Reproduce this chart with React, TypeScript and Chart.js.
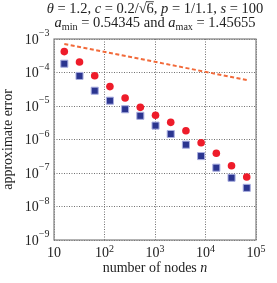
import React, { useEffect, useRef } from 'react';
import { Chart, registerables } from 'chart.js';

Chart.register(...registerables);

// ---- data ----
const nodes = [16, 32, 64, 128, 256, 512, 1024, 2048, 4096, 8192, 16384, 32768, 65536];
const errCircles = [4.2e-4, 2.05e-4, 8.0e-5, 3.8e-5, 1.73e-5, 9.1e-6, 5.3e-6, 3.25e-6, 1.83e-6, 8.0e-7, 3.9e-7, 1.65e-7, 7.6e-8];
const errSquares = [1.83e-4, 7.9e-5, 2.86e-5, 1.44e-5, 8.0e-6, 5.1e-6, 2.6e-6, 1.46e-6, 7.0e-7, 3.2e-7, 1.44e-7, 7.2e-8, 3.6e-8];
const refLineX = [16, 65536];
const refLineY = [7.1e-4, 6.0e-5];
const xTickExps = [1, 2, 3, 4, 5];
const yTickExps = [-3, -4, -5, -6, -7, -8, -9];
const yTitle = 'approximate error';
const xTitleText = 'number of nodes ';
const xTitleVar = 'n';

const SERIF = '"Liberation Serif", "DejaVu Serif", serif';
const F = (size: number, italic = false) => `${italic ? 'italic ' : ''}${size}px ${SERIF}`;

type Seg = { t: string; i?: boolean; sub?: boolean; sqrt?: boolean };

const titleLine1: Seg[] = [
  { t: 'θ', i: true }, { t: ' = 1.2, ' }, { t: 'c', i: true }, { t: ' = 0.2/' }, { t: '6', sqrt: true },
  { t: ', ' }, { t: 'p', i: true }, { t: ' = 1/1.1, ' }, { t: 's', i: true }, { t: ' = 100' },
];
const titleLine2: Seg[] = [
  { t: 'a', i: true }, { t: 'min', sub: true }, { t: ' = 0.54345 and ' }, { t: 'a', i: true }, { t: 'max', sub: true }, { t: ' = 1.45655' },
];

function segWidth(ctx: CanvasRenderingContext2D, s: Seg, size: number) {
  if (s.sqrt) {
    ctx.font = F(size);
    return ctx.measureText('√').width + ctx.measureText(s.t).width;
  }
  ctx.font = F(s.sub ? size * 0.7 : size, !!s.i);
  return ctx.measureText(s.t).width;
}

function drawSegs(ctx: CanvasRenderingContext2D, segs: Seg[], cx: number, baseline: number, size: number) {
  const total = segs.reduce((a, s) => a + segWidth(ctx, s, size), 0);
  let x = cx - total / 2;
  ctx.textAlign = 'left';
  ctx.textBaseline = 'alphabetic';
  for (const s of segs) {
    if (s.sqrt) {
      ctx.font = F(size);
      const w1 = ctx.measureText('√').width;
      ctx.fillText('√', x, baseline);
      const w2 = ctx.measureText(s.t).width;
      ctx.fillText(s.t, x + w1, baseline);
      ctx.beginPath();
      ctx.lineWidth = 0.8;
      ctx.moveTo(x + w1 - 0.5, baseline - size * 0.78);
      ctx.lineTo(x + w1 + w2, baseline - size * 0.78);
      ctx.stroke();
      x += w1 + w2;
    } else {
      const sz = s.sub ? size * 0.7 : size;
      ctx.font = F(sz, !!s.i);
      ctx.fillText(s.t, x, baseline + (s.sub ? 3 : 0));
      x += ctx.measureText(s.t).width;
    }
  }
}

function powParts(e: number) {
  if (e === 1) return { base: '10', exp: '' };
  return { base: '10', exp: e < 0 ? '−' + Math.abs(e) : String(e) };
}

const decorPlugin = {
  id: 'decor',
  beforeDatasetsDraw(chart: any) {
    const { ctx, chartArea: a } = chart;
    ctx.save();
    ctx.strokeStyle = '#808080';
    ctx.lineWidth = 1.2;
    ctx.strokeRect(a.left, a.top, a.right - a.left, a.bottom - a.top);
    ctx.restore();
  },
  afterDraw(chart: any) {
    const { ctx, chartArea: a, scales } = chart;
    ctx.save();
    ctx.fillStyle = '#222';
    ctx.strokeStyle = '#222';
    const baseSize = 14;
    const expSize = 10;
    // y ticks
    const ys = scales.y;
    for (const t of ys.ticks) {
      const e = Math.round(Math.log10(t.value));
      const py = ys.getPixelForValue(t.value);
      const { base, exp } = powParts(e);
      ctx.font = F(expSize);
      const we = ctx.measureText(exp).width;
      ctx.font = F(baseSize);
      const wb = ctx.measureText(base).width;
      const right = a.left - 4.5;
      ctx.textAlign = 'left';
      ctx.textBaseline = 'alphabetic';
      ctx.fillText(base, right - we - wb, py + 4.6);
      ctx.font = F(expSize);
      ctx.fillText(exp, right - we, py - 3);
    }
    // x ticks
    const xs = scales.x;
    for (const t of xs.ticks) {
      const e = Math.round(Math.log10(t.value));
      const px = xs.getPixelForValue(t.value);
      const { base, exp } = powParts(e);
      ctx.font = F(expSize);
      const we = exp ? ctx.measureText(exp).width : 0;
      ctx.font = F(baseSize);
      const wb = ctx.measureText(base).width;
      const left = px - (wb + we) / 2;
      ctx.textAlign = 'left';
      ctx.textBaseline = 'alphabetic';
      ctx.fillText(base, left, a.bottom + 17);
      if (exp) {
        ctx.font = F(expSize);
        ctx.fillText(exp, left + wb, a.bottom + 11.5);
      }
    }
    // x title
    ctx.font = F(baseSize);
    const w1 = ctx.measureText(xTitleText).width;
    ctx.font = F(baseSize, true);
    const w2 = ctx.measureText(xTitleVar).width;
    const cx = (a.left + a.right) / 2;
    ctx.font = F(baseSize);
    ctx.fillText(xTitleText, cx - (w1 + w2) / 2, 272);
    ctx.font = F(baseSize, true);
    ctx.fillText(xTitleVar, cx - (w1 + w2) / 2 + w1, 272);
    // y title
    ctx.save();
    ctx.translate(12, (a.top + a.bottom) / 2);
    ctx.rotate(-Math.PI / 2);
    ctx.font = F(baseSize);
    ctx.textAlign = 'center';
    ctx.textBaseline = 'alphabetic';
    ctx.fillText(yTitle, 0, 0);
    ctx.restore();
    // chart title
    drawSegs(ctx, titleLine1, cx, 13, 14.5);
    drawSegs(ctx, titleLine2, cx, 27, 14.5);
    ctx.restore();
  },
};

export default function App() {
  const ref = useRef<HTMLCanvasElement | null>(null);
  useEffect(() => {
    if (!ref.current) return;
    const chart = new Chart(ref.current, {
      type: 'scatter',
      data: {
        datasets: [
          {
            label: 'squares',
            data: nodes.map((x, i) => ({ x, y: errSquares[i] })),
            pointStyle: 'rect',
            pointRadius: 5,
            backgroundColor: '#2b3590',
            borderColor: '#a9aee0',
            borderWidth: 1,
          },
          {
            label: 'circles',
            data: nodes.map((x, i) => ({ x, y: errCircles[i] })),
            pointStyle: 'circle',
            pointRadius: 3.8,
            backgroundColor: '#ee1c2a',
            borderColor: '#ee1c2a',
            borderWidth: 0,
          },
          {
            label: 'reference',
            data: refLineX.map((x, i) => ({ x, y: refLineY[i] })),
            showLine: true,
            pointRadius: 0,
            borderColor: '#f26a3a',
            borderWidth: 2,
            borderDash: [4, 2.5],
            tension: 0,
          } as any,
        ],
      },
      options: {
        animation: false,
        responsive: true,
        maintainAspectRatio: false,
        layout: { padding: { top: 39, right: 21, left: 0, bottom: 0 } },
        plugins: { legend: { display: false }, tooltip: { enabled: false }, title: { display: false } },
        scales: {
          x: {
            type: 'logarithmic',
            min: 10,
            max: 1e5,
            afterBuildTicks: (s: any) => { s.ticks = xTickExps.map((e) => ({ value: Math.pow(10, e) })); },
            afterFit: (s: any) => { s.height = 43; },
            ticks: { display: false },
            grid: { color: '#707070', lineWidth: 1, drawTicks: false },
            border: { display: false, dash: [1, 1.5] },
          },
          y: {
            type: 'logarithmic',
            min: 1e-9,
            max: 1e-3,
            afterBuildTicks: (s: any) => { s.ticks = yTickExps.map((e) => ({ value: Math.pow(10, e) })); },
            afterFit: (s: any) => { s.width = 54; },
            ticks: { display: false },
            grid: { color: '#707070', lineWidth: 1, drawTicks: false },
            border: { display: false, dash: [1, 1.5] },
          },
        },
      } as any,
      plugins: [decorPlugin],
    });
    return () => chart.destroy();
  }, []);
  return (
    <div style={{ position: 'fixed', left: 0, top: 0, width: 277, height: 283, background: '#fff' }}>
      <canvas ref={ref} />
    </div>
  );
}
